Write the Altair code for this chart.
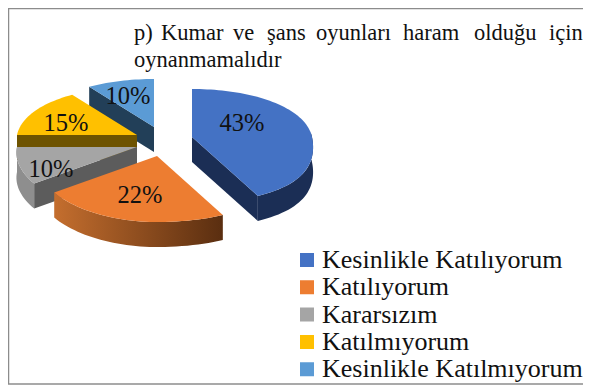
import math
import altair as alt
import pandas as pd

# ---- data
categories = ["Kesinlikle Katılıyorum", "Katılıyorum", "Kararsızım", "Katılmıyorum", "Kesinlikle Katılmıyorum"]
values = [43, 22, 10, 15, 10]
top_colors = ["#4472C4", "#ED7D31", "#A5A5A5", "#FFC000", "#5B9BD5"]

# ---- layout
centers = [(192, 137), (157, 156), (137, 147), (137, 135), (154, 127)]
label_x = [242, 140, 51, 66, 128]
label_y = [124, 196, 170, 124, 97]
DEPTH = 25
FONT = "Liberation Serif"
title_words = ["p)", "Kumar", "ve", "şans", "oyunları", "haram", "olduğu", "için"]
title_word_x = [134, 161, 233, 267, 316, 403, 474, 549]

side_names = ["blue_side", "grey_rim", "grey_cut", "yellow_cut", "lblue_cut"]
side_colors = ["#1B2E55", "#8E8E8E", "#5C5C5C", "#6E5300", "#223F58"]

x_enc = alt.X("x:Q", scale=alt.Scale(domain=[8, 583], nice=False, zero=False), axis=None)
y_enc = alt.Y("y:Q", scale=alt.Scale(domain=[387, 8], nice=False, zero=False), axis=None)
color_scale = alt.Scale(domain=categories + side_names, range=top_colors + side_colors)
legend = alt.Legend(
    title=None, orient="none", legendX=286, legendY=241, values=categories,
    symbolType="square", symbolSize=196, symbolStrokeWidth=0, symbolOpacity=1,
    labelFont=FONT, labelFontSize=26, labelColor="#111111", labelLimit=300,
    rowPadding=1.3, labelOffset=2, clipHeight=22,
)

# ---- slice geometry derived from the values
spans = []
acc = 0
for v in values:
    spans.append((acc * 3.6, (acc + v) * 3.6))
    acc += v


def pt(i, deg, dz=0):
    a = math.radians(deg)
    u, w = math.sin(a), math.cos(a)
    cx, cy = centers[i]
    skew = 29 * u * w * w if (u > 0 and w < 0) else 0
    return cx + u * (120 - 12 * w) + skew, cy - w * (57 - 9 * w) + dz


def arc(i, a, b, dz=0):
    n = max(2, int(abs(b - a) / 2))
    return [pt(i, a + (b - a) * k / n, dz) for k in range(n + 1)]


def poly(points, part=None, gradient=None):
    df = pd.DataFrame({"x": [p[0] for p in points], "y": [p[1] for p in points],
                       "seq": list(range(len(points))), "part": part or "g"})
    if gradient is not None:
        m = alt.Chart(df).mark_line(filled=True, strokeWidth=0, fill=gradient)
        return m.encode(x=x_enc, y=y_enc, order="seq:Q")
    m = alt.Chart(df).mark_line(filled=True, strokeWidth=0)
    return m.encode(x=x_enc, y=y_enc, order="seq:Q",
                    color=alt.Color("part:N", scale=color_scale, legend=legend))


def top(i):
    return poly([centers[i]] + arc(i, *spans[i]), categories[i])


def rim(i, a, b, part=None, gradient=None):
    return poly(arc(i, a, b) + arc(i, b, a, DEPTH), part, gradient)


def cut(i, deg, part):
    cx, cy = centers[i]
    p = pt(i, deg)
    q = pt(i, deg, DEPTH)
    return poly([(cx, cy), p, q, (cx, cy + DEPTH)], part)


orange_grad = alt.LinearGradient(
    gradient="linear", x1=0, x2=1, y1=0, y2=0,
    stops=[alt.GradientStop(offset=0, color="#C46E2E"),
           alt.GradientStop(offset=1, color="#5A2E10")],
)

layers = [
    cut(4, spans[4][0], "lblue_cut"), top(4),
    cut(3, spans[3][0], "yellow_cut"), top(3),
    rim(2, *spans[2], part="grey_rim"), cut(2, spans[2][0], "grey_cut"), top(2),
    rim(1, *spans[1], gradient=orange_grad), top(1),
    rim(0, 85, spans[0][1], part="blue_side"), cut(0, spans[0][1], "blue_side"), top(0),
]

# ---- percentage labels
pct = pd.DataFrame({"x": label_x, "y": label_y, "t": [f"{v}%" for v in values]})
layers.append(alt.Chart(pct).mark_text(font=FONT, fontSize=24.5, color="#111111").encode(x=x_enc, y=y_enc, text="t:N"))

# ---- title
tw = pd.DataFrame({"x": title_word_x, "y": [40] * len(title_words), "t": title_words})
layers.append(alt.Chart(tw).mark_text(font=FONT, fontSize=22.5, align="left", baseline="alphabetic", color="#111111")
              .encode(x=x_enc, y=y_enc, text="t:N"))
tl = pd.DataFrame({"x": [134], "y": [67], "t": ["oynanmamalıdır"]})
layers.append(alt.Chart(tl).mark_text(font=FONT, fontSize=22.5, align="left", baseline="alphabetic", color="#111111")
              .encode(x=x_enc, y=y_enc, text="t:N"))

# ---- frame
frame_v = pd.DataFrame({"x": [8.5], "y": [8], "y2": [384]})
layers.append(alt.Chart(frame_v).mark_rule(color="#8C8C8C", strokeWidth=1.5).encode(x=x_enc, y=y_enc, y2="y2:Q"))
frame_h = pd.DataFrame({"x": [8, 8], "x2": [583, 583], "y": [8.5, 384]})
layers.append(alt.Chart(frame_h).mark_rule(color="#8C8C8C", strokeWidth=1.5).encode(x=x_enc, x2="x2:Q", y=y_enc))

chart = alt.layer(*layers).properties(
    width=575, height=379, padding=0, autosize=alt.AutoSizeParams(type="none"), background="white",
).configure_view(stroke=None)

chart.save("out.html", embed_options={"renderer": "svg", "actions": False})
